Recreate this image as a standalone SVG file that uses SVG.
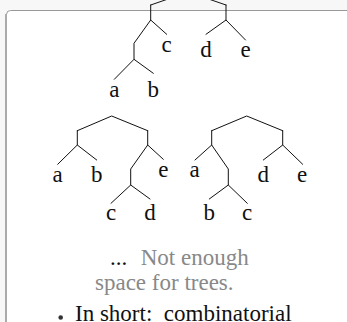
<svg xmlns="http://www.w3.org/2000/svg" width="347" height="322" viewBox="0 0 347 322">
<style>
.e{stroke:#111;stroke-width:1;fill:none;stroke-linecap:round;stroke-linejoin:round}
.l{font-family:"Liberation Serif","Times New Roman",serif;font-size:23px;fill:#111;text-anchor:middle}
.t{font-family:"Liberation Serif","Times New Roman",serif;font-size:23px;fill:#111;white-space:pre}
.g{fill:#888}
</style>
<rect x="0" y="0" width="347" height="322" fill="#f7f7f7"/>
<rect x="6.5" y="10.5" width="400" height="400" rx="4" ry="4" fill="#ffffff" stroke="#999" stroke-width="1"/>
<line x1="6" y1="14" x2="6" y2="340" stroke="#aaa" stroke-width="2"/>

<g id="connectors">
  <!-- tree 1 -->
  <path class="e" d="M150.7,5 L188.3,-8 L226,5"/>
  <path class="e" d="M150.7,5 V20 M166.7,34.3 L150.7,20 L134,43.3 V59.3 M114.3,79.3 L134,59.3 L153.3,73.3"/>
  <path class="e" d="M226,5 V20 M206,34.3 L226,20 L245.5,40"/>
  <!-- tree 2 -->
  <path class="e" d="M77.3,130.7 L111.7,116 L147.7,130.7"/>
  <path class="e" d="M77.3,130.7 V145 M57.7,164.3 L77.3,145 L96.7,160"/>
  <path class="e" d="M147.7,130.7 V145 M163.3,159.3 L147.7,145 L130.7,169 V185 M111,203.3 L130.7,185 L150,199"/>
  <!-- tree 3 -->
  <path class="e" d="M211.7,130.7 L246.7,116 L282.7,130.7"/>
  <path class="e" d="M211.7,130.7 V145 M195,160 L211.7,145 L228.3,169 V185 M209.3,199 L228.3,185 L247.3,203.3"/>
  <path class="e" d="M282.7,130.7 V145 M263.3,160 L282.7,145 L302.7,164.3"/>
</g>

<g id="tree1">
  <text class="l" x="114.3" y="96.7">a</text>
  <text class="l" x="153.3" y="96.7">b</text>
  <text class="l" x="166.5" y="51.7">c</text>
  <text class="l" x="206" y="56.7">d</text>
  <text class="l" x="245.5" y="56.7">e</text>
</g>
<g id="tree2">
  <text class="l" x="57.5" y="181.7">a</text>
  <text class="l" x="96.7" y="181.7">b</text>
  <text class="l" x="163.3" y="177.3">e</text>
  <text class="l" x="111" y="220">c</text>
  <text class="l" x="150" y="220">d</text>
</g>
<g id="tree3">
  <text class="l" x="194.5" y="177.3">a</text>
  <text class="l" x="263.3" y="181.7">d</text>
  <text class="l" x="302" y="181.7">e</text>
  <text class="l" x="209.3" y="220">b</text>
  <text class="l" x="247" y="220">c</text>
</g>
<g id="note">
  <text class="t" x="110" y="265">...</text>
  <text class="t g" x="140.7" y="265">Not enough</text>
  <text class="t g" x="95" y="290">space for trees.</text>
</g>
<g id="bullet">
  <circle cx="60.7" cy="317.5" r="2.3" fill="#333"/>
  <text class="t" x="75" y="320.5">In short:  combinatorial</text>
</g>
</svg>
